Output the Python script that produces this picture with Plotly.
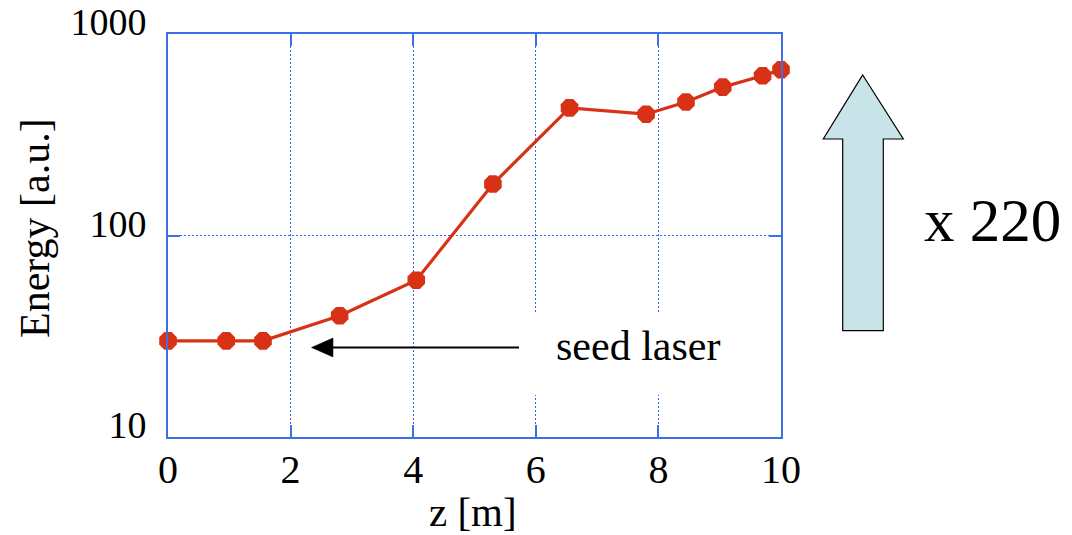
import plotly.graph_objects as go

# Energy growth along the undulator (log scale)
z_m = [0, 0.95, 1.55, 2.8, 4.05, 5.3, 6.55, 7.8, 8.45, 9.05, 9.7, 10]
energy_au = [30, 30, 30, 40, 60, 180, 430, 400, 460, 545, 620, 665]

x_ticks = [0, 2, 4, 6, 8, 10]
y_ticks = [10, 100, 1000]
y_tick_text = ["10", "100", "1000"]

W, H = 1072, 535
M_L, M_R, M_T, M_B = 168, 291, 34, 98
PW, PH = W - M_L - M_R, H - M_T - M_B

FRAME = "#3f6fe6"
GRID = "#2f64f0"
RED = "#d83216"
FONT = "Liberation Serif"


def px(xpix):
    return (xpix - M_L) / PW


def py(ypix):
    return (H - M_B - ypix) / PH


fig = go.Figure()
fig.add_trace(go.Scatter(
    x=z_m, y=energy_au, mode="lines+markers",
    line=dict(color=RED, width=3.2),
    marker=dict(symbol="octagon", size=19, color=RED, line=dict(width=0)),
    cliponaxis=False, showlegend=False,
))

axis_common = dict(
    showline=True, linecolor=FRAME, linewidth=2, mirror="ticks",
    ticks="inside", ticklen=12, tickwidth=1.5, tickcolor=FRAME,
    showgrid=True, gridcolor=GRID, gridwidth=1.2, griddash="2px,2px",
    zeroline=False, automargin=False,
)

fig.update_xaxes(range=[0, 10], tickvals=x_ticks, ticklabelstandoff=-4,
                 tickfont=dict(family=FONT, size=40, color="black"), **axis_common)
fig.update_yaxes(type="log", range=[1, 3], tickvals=y_ticks, ticktext=y_tick_text,
                 ticklabelstandoff=12, ticklabelshift=-12,
                 tickfont=dict(family=FONT, size=38, color="black"), **axis_common)

shapes = []
# white box behind the label so the grid stops around it
shapes.append(dict(type="rect", xref="paper", yref="paper",
                   x0=px(530), x1=px(745), y0=py(395), y1=py(313),
                   fillcolor="white", line=dict(width=0), layer="above"))
# seed-laser pointer
shapes.append(dict(type="line", xref="paper", yref="paper",
                   x0=px(519), x1=px(330), y0=py(347.5), y1=py(347.5),
                   line=dict(color="black", width=2), layer="above"))
shapes.append(dict(type="path", xref="paper", yref="paper",
                   path=f"M {px(311.5)},{py(347.5)} L {px(333)},{py(338)} L {px(333)},{py(357)} Z",
                   fillcolor="black", line=dict(color="black", width=0.5), layer="above"))
# big gain arrow
arrow_pts = [(862.7, 75), (903.3, 139), (883.3, 139), (883.3, 330.7),
             (842.7, 330.7), (842.7, 139), (823.3, 139)]
path = "M " + " L ".join(f"{px(a)},{py(b)}" for a, b in arrow_pts) + " Z"
shapes.append(dict(type="path", xref="paper", yref="paper", path=path,
                   fillcolor="#c8e4e8", line=dict(color="black", width=1.2),
                   layer="above"))

annotations = [
    dict(text="seed laser", xref="paper", yref="paper", x=px(637.5), y=py(346),
         xanchor="center", yanchor="middle", showarrow=False,
         font=dict(family=FONT, size=42, color="black")),
    dict(text="x 220", xref="paper", yref="paper", x=px(992), y=py(220),
         xanchor="center", yanchor="middle", showarrow=False,
         font=dict(family=FONT, size=61, color="black")),
    dict(text="Energy [a.u.]", xref="paper", yref="paper", x=px(35), y=py(228),
         xanchor="center", yanchor="middle", textangle=-90, showarrow=False,
         font=dict(family=FONT, size=42, color="black")),
    dict(text="z [m]", xref="paper", yref="paper", x=px(472.5), y=py(512),
         xanchor="center", yanchor="middle", showarrow=False,
         font=dict(family=FONT, size=41, color="black")),
]

fig.update_layout(
    width=W, height=H,
    margin=dict(l=M_L, r=M_R, t=M_T, b=M_B),
    paper_bgcolor="white", plot_bgcolor="white",
    shapes=shapes, annotations=annotations,
)

fig.write_html("out.html")
